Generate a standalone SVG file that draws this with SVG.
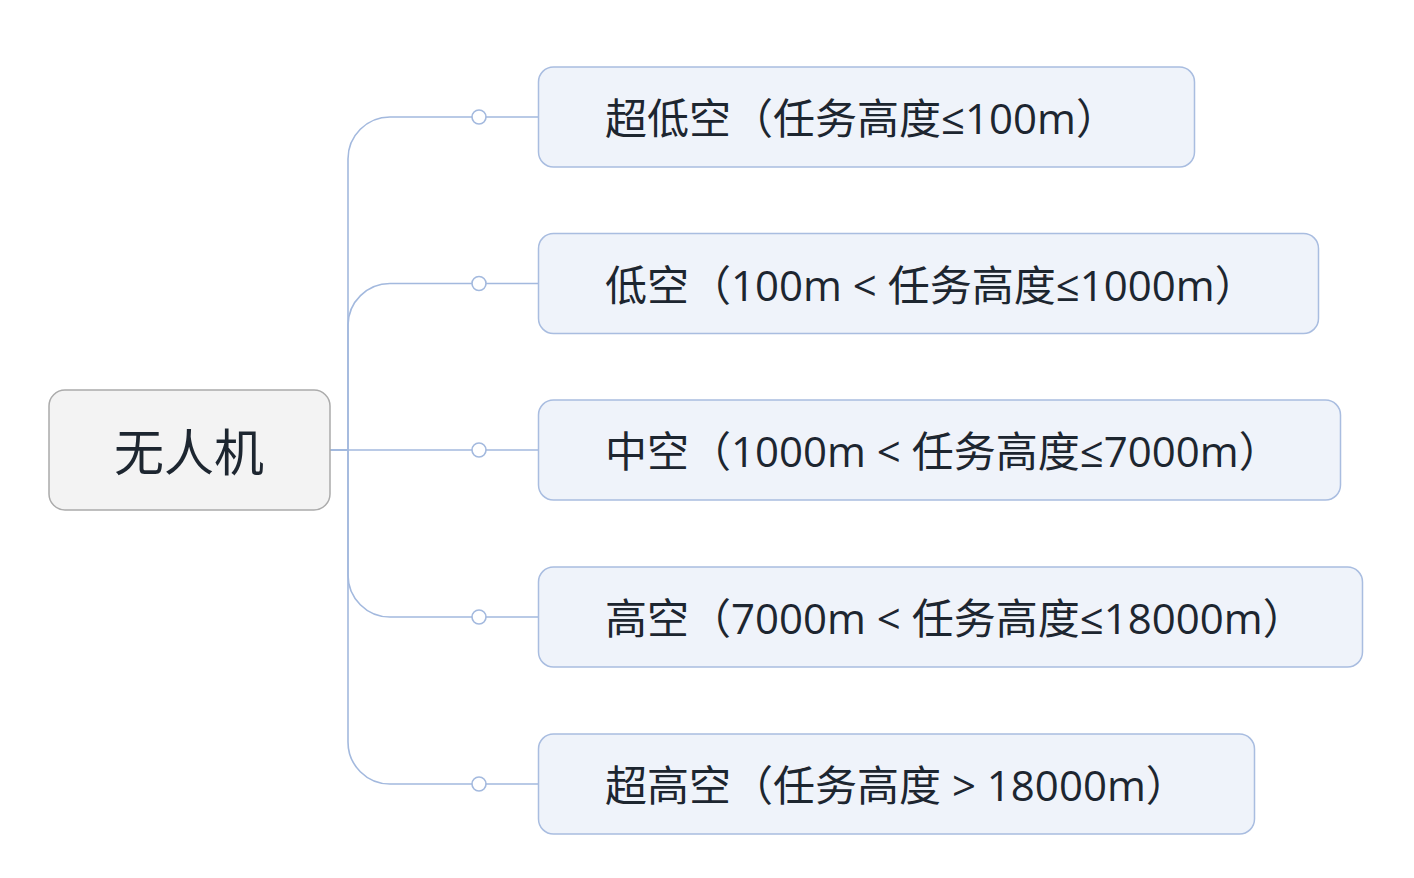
<svg xmlns="http://www.w3.org/2000/svg" width="1414" height="878" viewBox="0 0 1414 878">
<style>
.conn{fill:none;stroke:#a3b9de;stroke-width:1.6}
.dot{fill:#ffffff;stroke:#a3b9de;stroke-width:1.6}
.child rect{fill:#eff3fa;stroke:#a9bde0;stroke-width:1.5}
.root rect{fill:#f3f3f3;stroke:#ababab;stroke-width:1.5}
text{font-family:"Open Sans","Noto Sans CJK SC",sans-serif;fill:#1d2630}
.ct{font-size:42px}
.rt{font-size:50px}
</style>
<rect width="1414" height="878" fill="#ffffff"/>
<g id="connectors">
<path class="conn" d="M330,450 H348 V159 A42,42 0 0 1 390,117 H538"/>
<path class="conn" d="M330,450 H348 V325 A42,42 0 0 1 390,283.5 H538"/>
<path class="conn" d="M330,450 H538"/>
<path class="conn" d="M330,450 H348 V575 A42,42 0 0 0 390,617 H538"/>
<path class="conn" d="M330,450 H348 V742 A42,42 0 0 0 390,784 H538"/>
<circle class="dot" cx="479" cy="117" r="7"/>
<circle class="dot" cx="479" cy="283.5" r="7"/>
<circle class="dot" cx="479" cy="450" r="7"/>
<circle class="dot" cx="479" cy="617" r="7"/>
<circle class="dot" cx="479" cy="784" r="7"/>
</g>
<g id="root" class="root">
<rect x="49" y="390" width="281" height="120" rx="16"/>
<text class="rt" x="189" y="471" text-anchor="middle">无人机</text>
</g>
<g id="n1" class="child">
<rect x="538.5" y="67" width="656" height="100" rx="15"/>
<text class="ct" x="605" y="134">超低空（任务高度≤100m）</text>
</g>
<g id="n2" class="child">
<rect x="538.5" y="233.5" width="780" height="100" rx="15"/>
<text class="ct" x="605" y="300.5">低空（100m &lt; 任务高度≤1000m）</text>
</g>
<g id="n3" class="child">
<rect x="538.5" y="400" width="802" height="100" rx="15"/>
<text class="ct" x="605" y="467">中空（1000m &lt; 任务高度≤7000m）</text>
</g>
<g id="n4" class="child">
<rect x="538.5" y="567" width="824" height="100" rx="15"/>
<text class="ct" x="605" y="634">高空（7000m &lt; 任务高度≤18000m）</text>
</g>
<g id="n5" class="child">
<rect x="538.5" y="734" width="716" height="100" rx="15"/>
<text class="ct" x="605" y="801">超高空（任务高度 &gt; 18000m）</text>
</g>
</svg>
